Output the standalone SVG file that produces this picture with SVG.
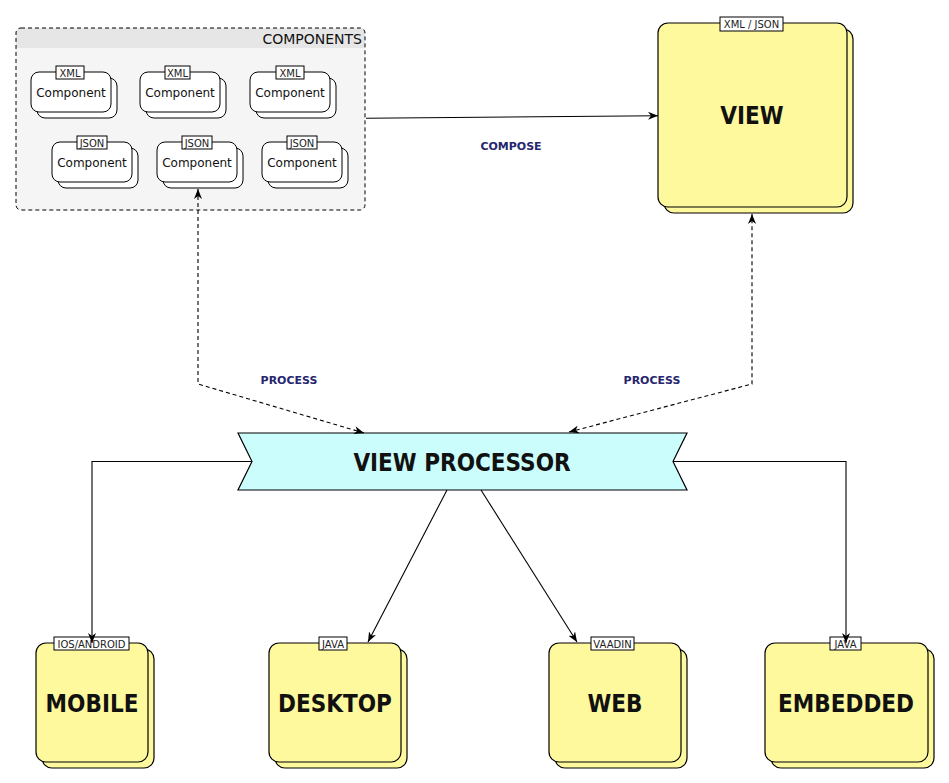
<svg xmlns="http://www.w3.org/2000/svg" width="949" height="783" viewBox="0 0 949 783">
<style>
.comp{fill:#ffffff;stroke:#000;stroke-width:1}
.note{fill:#fdf99c;stroke:#000;stroke-width:1.2}
.tag{fill:#fff;stroke:#000;stroke-width:1}
.tagt{font-family:"DejaVu Sans",sans-serif;font-size:10px;fill:#222;text-anchor:middle}
.ct{font-family:"DejaVu Sans",sans-serif;font-size:12px;fill:#111;text-anchor:middle}
.big{font-family:"DejaVu Sans Condensed","DejaVu Sans",sans-serif;font-stretch:condensed;font-weight:bold;font-size:24px;fill:#111;text-anchor:middle}
.lbl{font-family:"DejaVu Sans",sans-serif;font-weight:bold;font-size:11px;fill:#26266e;text-anchor:middle}
.edge{fill:none;stroke:#000;stroke-width:1.1}
.dash{stroke-dasharray:4 3}
</style>
<defs>
<marker id="arr" viewBox="0 0 10 8" refX="10" refY="4" markerWidth="10" markerHeight="8" markerUnits="userSpaceOnUse" orient="auto-start-reverse">
<path d="M0,0 L10,4 L0,8 L3,4 z" fill="#000"/>
</marker>
</defs>
<rect width="949" height="783" fill="#fff"/>

<g id="components">
<rect x="16" y="28" width="349" height="182" rx="5" fill="#f5f5f5"/>
<path d="M16,48 V33 a5,5 0 0 1 5,-5 H360 a5,5 0 0 1 5,5 V48 z" fill="#e6e6e6"/>
<rect x="16" y="28" width="349" height="182" rx="5" fill="none" stroke="#000" stroke-dasharray="4 3"/>
<text x="362" y="44" font-family="DejaVu Sans,sans-serif" font-size="14" fill="#111" text-anchor="end">COMPONENTS</text>
</g>

<g id="comp-xml-1">
<rect class="comp" x="37" y="78" width="80" height="40" rx="8"/>
<rect class="comp" x="31" y="72" width="80" height="40" rx="8"/>
<rect class="tag" x="56" y="66" width="28" height="13"/>
<text class="tagt" x="70" y="76.5">XML</text>
<text class="ct" x="71" y="97">Component</text>
</g>
<g id="comp-xml-2">
<rect class="comp" x="146" y="78" width="80" height="40" rx="8"/>
<rect class="comp" x="140" y="72" width="80" height="40" rx="8"/>
<rect class="tag" x="165" y="66" width="25" height="13"/>
<text class="tagt" x="177.5" y="76.5">XML</text>
<text class="ct" x="180" y="97">Component</text>
</g>
<g id="comp-xml-3">
<rect class="comp" x="256" y="78" width="80" height="40" rx="8"/>
<rect class="comp" x="250" y="72" width="80" height="40" rx="8"/>
<rect class="tag" x="276" y="66" width="28" height="13"/>
<text class="tagt" x="290" y="76.5">XML</text>
<text class="ct" x="290" y="97">Component</text>
</g>
<g id="comp-json-1">
<rect class="comp" x="58" y="148" width="80" height="40" rx="8"/>
<rect class="comp" x="52" y="142" width="80" height="40" rx="8"/>
<rect class="tag" x="77" y="136" width="30" height="13"/>
<text class="tagt" x="92" y="146.5">JSON</text>
<text class="ct" x="92" y="167">Component</text>
</g>
<g id="comp-json-2">
<rect class="comp" x="163" y="148" width="80" height="40" rx="8"/>
<rect class="comp" x="157" y="142" width="80" height="40" rx="8"/>
<rect class="tag" x="182" y="136" width="30" height="13"/>
<text class="tagt" x="197" y="146.5">JSON</text>
<text class="ct" x="197" y="167">Component</text>
</g>
<g id="comp-json-3">
<rect class="comp" x="268" y="148" width="80" height="40" rx="8"/>
<rect class="comp" x="262" y="142" width="80" height="40" rx="8"/>
<rect class="tag" x="287" y="136" width="30" height="13"/>
<text class="tagt" x="302" y="146.5">JSON</text>
<text class="ct" x="302" y="167">Component</text>
</g>

<g id="view">
<rect class="note" x="664" y="29" width="189" height="184" rx="10"/>
<rect class="note" x="658" y="23" width="189" height="184" rx="10"/>
<rect class="tag" x="720" y="17" width="63" height="14"/>
<text class="tagt" x="751.5" y="27.5">XML / JSON</text>
<text class="big" x="752" y="124">VIEW</text>
</g>

<g id="view-processor">
<polygon points="238,433 687,433 673,461.5 687,490 238,490 252,461.5" fill="#ccfdfd" stroke="#000" stroke-width="1.2"/>
<text class="big" x="462" y="471" font-size="26">VIEW PROCESSOR</text>
</g>

<g id="mobile">
<rect class="note" x="42" y="649" width="112" height="119" rx="10"/>
<rect class="note" x="36" y="643" width="112" height="119" rx="10"/>
<rect class="tag" x="54" y="637" width="75" height="13"/>
<text class="tagt" x="91.5" y="647.5">IOS/ANDROID</text>
<text class="big" x="92" y="712">MOBILE</text>
</g>
<g id="desktop">
<rect class="note" x="275" y="649" width="132" height="119" rx="10"/>
<rect class="note" x="269" y="643" width="132" height="119" rx="10"/>
<rect class="tag" x="319" y="637" width="28" height="13"/>
<text class="tagt" x="333" y="647.5">JAVA</text>
<text class="big" x="335" y="712">DESKTOP</text>
</g>
<g id="web">
<rect class="note" x="555" y="649" width="132" height="119" rx="10"/>
<rect class="note" x="549" y="643" width="132" height="119" rx="10"/>
<rect class="tag" x="591" y="637" width="43" height="13"/>
<text class="tagt" x="612.5" y="647.5">VAADIN</text>
<text class="big" x="615" y="712">WEB</text>
</g>
<g id="embedded">
<rect class="note" x="771" y="649" width="163" height="119" rx="10"/>
<rect class="note" x="765" y="643" width="163" height="119" rx="10"/>
<rect class="tag" x="830" y="637" width="31" height="13"/>
<text class="tagt" x="845.5" y="647.5">JAVA</text>
<text class="big" x="846" y="712">EMBEDDED</text>
</g>

<g id="connectors">
<path class="edge" d="M366,118.3 L658,115.7" marker-end="url(#arr)"/>
<text class="lbl" x="511" y="150">COMPOSE</text>
<path class="edge dash" d="M364,433 L198,384 L198,189" marker-start="url(#arr)" marker-end="url(#arr)"/>
<text class="lbl" x="289" y="384">PROCESS</text>
<path class="edge dash" d="M569,432 L752,384 L752,214" marker-start="url(#arr)" marker-end="url(#arr)"/>
<text class="lbl" x="652" y="384">PROCESS</text>
<path class="edge" d="M252,461.5 L92,461.5 L92,643" marker-end="url(#arr)"/>
<path class="edge" d="M673,461.5 L846,461.5 L846,643" marker-end="url(#arr)"/>
<path class="edge" d="M447,490 L368,642" marker-end="url(#arr)"/>
<path class="edge" d="M481,490 L577,642" marker-end="url(#arr)"/>
</g>
</svg>
